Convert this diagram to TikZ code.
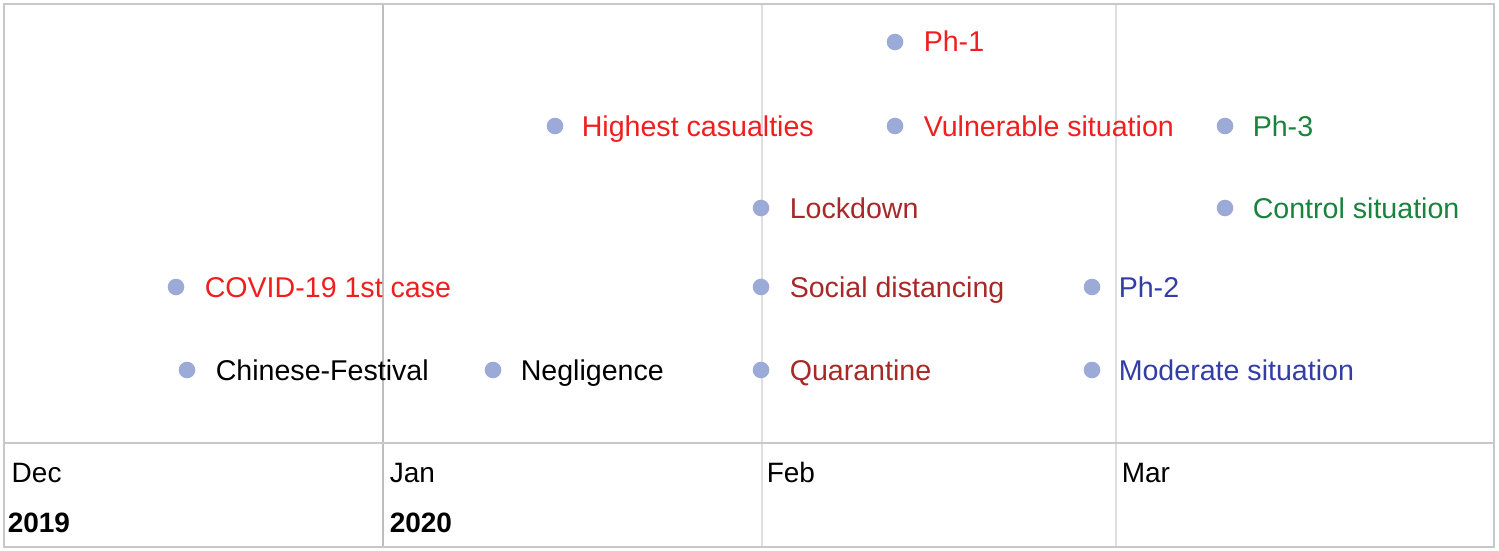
\documentclass[tikz,border=0pt]{standalone}
\usepackage{fontspec}
\setmainfont{Liberation Sans}

\definecolor{dotblue}{RGB}{155,170,215}
\definecolor{gridgray}{RGB}{222,222,222}
\definecolor{framegray}{RGB}{200,200,200}
\definecolor{evred}{RGB}{240,30,30}
\definecolor{evbrown}{RGB}{168,40,40}
\definecolor{evgreen}{RGB}{25,130,60}
\definecolor{evblue}{RGB}{50,62,165}

\tikzset{every picture/.style={line width=0.75pt}}
\tikzset{
  evdot/.style={circle,fill=dotblue,draw=none,inner sep=0pt,minimum size=8.3pt},
  evtext/.style={anchor=base west,inner sep=0pt,font=\fontsize{14.3}{17}\selectfont},
  axtext/.style={anchor=base west,inner sep=0pt,font=\fontsize{14}{17}\selectfont},
}

\begin{document}
\begin{tikzpicture}[x=0.5pt,y=0.5pt,yscale=-1,xscale=1]
    \useasboundingbox (0,0) rectangle (1499,551);

    %Shape: Grid
    \draw [gridgray,line width=1pt] (762,4) -- (762,547) ;
    \draw [gridgray,line width=1pt] (1116,4) -- (1116,547) ;
    \draw [framegray!95!black,line width=1pt] (383,4) -- (383,547) ;
    \draw [framegray,line width=1pt] (4,443) -- (1494,443) ;
    %Shape: Frame
    \draw [framegray,line width=1.2pt] (4,4) -- (1494,4) -- (1494,547) -- (4,547) -- cycle ;

    % Dots
    \node [evdot] (dph1) at (895,42) {};
    \node [evdot] (dhigh) at (555,126) {};
    \node [evdot] (dvuln) at (895,126) {};
    \node [evdot] (dph3) at (1225,126) {};
    \node [evdot] (dlock) at (761,208) {};
    \node [evdot] (dctrl) at (1225,208) {};
    \node [evdot] (dcovid) at (176,287) {};
    \node [evdot] (dsocial) at (761,287) {};
    \node [evdot] (dph2) at (1092,287) {};
    \node [evdot] (dfest) at (187,370) {};
    \node [evdot] (dneg) at (493,370) {};
    \node [evdot] (dquar) at (761,370) {};
    \node [evdot] (dmod) at (1092,370) {};

    % Text Node
    \draw (923,52) node [evtext,evred] (ph1) {Ph-1};
    % Text Node
    \draw (581,136) node [evtext,evred] (high) {Highest casualties};
    % Text Node
    \draw (923,136) node [evtext,evred] (vuln) {Vulnerable situation};
    % Text Node
    \draw (1252,136) node [evtext,evgreen] (ph3) {Ph-3};
    % Text Node
    \draw (789,218) node [evtext,evbrown] (lock) {Lockdown};
    % Text Node
    \draw (1252,218) node [evtext,evgreen] (ctrl) {Control situation};
    % Text Node
    \draw (204,297) node [evtext,evred] (covid) {COVID-19 1st case};
    % Text Node
    \draw (789,297) node [evtext,evbrown] (social) {Social distancing};
    % Text Node
    \draw (1118,297) node [evtext,evblue] (ph2) {Ph-2};
    % Text Node
    \draw (215,380) node [evtext] (fest) {Chinese-Festival};
    % Text Node
    \draw (520,380) node [evtext] (neg) {Negligence};
    % Text Node
    \draw (789,380) node [evtext,evbrown] (quar) {Quarantine};
    % Text Node
    \draw (1118,380) node [evtext,evblue] (mod) {Moderate situation};

    % Axis Text
    \draw (11,482) node [axtext] (dec) {Dec};
    \draw (389,482) node [axtext] (jan) {Jan};
    \draw (766,482) node [axtext] (feb) {Feb};
    \draw (1121,482) node [axtext] (mar) {Mar};
    \draw (7,532) node [axtext,font=\fontsize{14}{17}\selectfont\bfseries] (y19) {2019};
    \draw (389,532) node [axtext,font=\fontsize{14}{17}\selectfont\bfseries] (y20) {2020};

\end{tikzpicture}
\end{document}
